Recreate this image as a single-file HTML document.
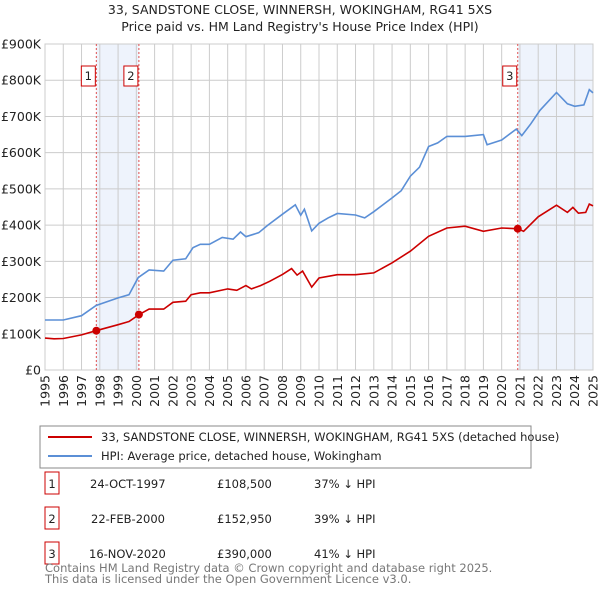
<!DOCTYPE html>
<html><head><meta charset="utf-8">
<style>
body{margin:0;background:#fff;font-family:"Liberation Sans","DejaVu Sans",sans-serif;}
svg text{font-family:"DejaVu Sans","Liberation Sans",sans-serif;}
</style></head>
<body>
<svg width="600" height="590" xmlns="http://www.w3.org/2000/svg" id="chart">
<text x="300" y="14" text-anchor="middle" font-size="12.5" fill="#222">33, SANDSTONE CLOSE, WINNERSH, WOKINGHAM, RG41 5XS</text>
<text x="300" y="31" text-anchor="middle" font-size="12.5" fill="#222">Price paid vs. HM Land Registry's House Price Index (HPI)</text>
<g id="plot"></g>
<rect x="40" y="426" width="491" height="42" fill="#fff" stroke="#888"/>
<line x1="48" y1="437" x2="92" y2="437" stroke="#cc0000" stroke-width="2"/>
<text x="101" y="441" font-size="11.5" fill="#222">33, SANDSTONE CLOSE, WINNERSH, WOKINGHAM, RG41 5XS (detached house)</text>
<line x1="48" y1="456" x2="92" y2="456" stroke="#5b8fd6" stroke-width="2"/>
<text x="101" y="460" font-size="11.5" fill="#222">HPI: Average price, detached house, Wokingham</text>
<g font-size="11.5" fill="#222">
<rect x="45" y="472" width="14" height="22" fill="#fff" stroke="#cc0000"/>
<text x="52" y="488" text-anchor="middle">1</text>
<text x="90" y="488">24-OCT-1997</text>
<text x="217" y="488">£108,500</text>
<text x="314" y="488">37% ↓ HPI</text>
<rect x="45" y="507" width="14" height="22" fill="#fff" stroke="#cc0000"/>
<text x="52" y="523" text-anchor="middle">2</text>
<text x="91" y="523">22-FEB-2000</text>
<text x="217" y="523">£152,950</text>
<text x="314" y="523">39% ↓ HPI</text>
<rect x="45" y="542" width="14" height="22" fill="#fff" stroke="#cc0000"/>
<text x="52" y="558" text-anchor="middle">3</text>
<text x="89" y="558">16-NOV-2020</text>
<text x="217" y="558">£390,000</text>
<text x="314" y="558">41% ↓ HPI</text>
</g>
<text x="45" y="572" font-size="11.5" fill="#777">Contains HM Land Registry data © Crown copyright and database right 2025.</text>
<text x="45" y="583" font-size="11.5" fill="#777">This data is licensed under the Open Government Licence v3.0.</text>
</svg>
<script>
const yTicks=[0,100000,200000,300000,400000,500000,600000,700000,800000,900000];
const yTickLabels=["£0","£100K","£200K","£300K","£400K","£500K","£600K","£700K","£800K","£900K"];
const xYears=[1995,1996,1997,1998,1999,2000,2001,2002,2003,2004,2005,2006,2007,2008,2009,2010,2011,2012,2013,2014,2015,2016,2017,2018,2019,2020,2021,2022,2023,2024,2025];
const hpiYears=[1995,1996,1997,1997.8,1999,1999.6,2000.1,2000.7,2001.5,2002,2002.7,2003.1,2003.5,2004,2004.7,2005.3,2005.7,2006,2006.7,2007.2,2008,2008.7,2009,2009.2,2009.6,2010,2010.5,2011,2012,2012.5,2013,2014,2014.5,2015,2015.5,2016,2016.5,2017,2018,2019,2019.2,2020,2020.8,2021.1,2021.6,2022.1,2023,2023.6,2024,2024.5,2024.8,2025];
const hpiValues=[138000,138000,150000,178000,199000,208000,255000,276000,273000,303000,307000,338000,347000,347000,366000,361000,381000,368000,379000,400000,430000,456000,427000,444000,384000,405000,420000,432000,428000,420000,437000,475000,495000,535000,560000,617000,627000,645000,645000,650000,622000,635000,665000,647000,680000,717000,766000,735000,728000,732000,774000,765000];
const ppYears=[1995,1995.5,1996,1997,1997.8,1999,1999.6,2000.15,2000.7,2001.5,2002,2002.7,2003,2003.5,2004,2005,2005.5,2006,2006.3,2006.8,2007.3,2008,2008.5,2008.8,2009.1,2009.6,2010,2011,2012,2013,2014,2015,2016,2017,2018,2019,2020,2020.88,2021.2,2022,2023,2023.6,2023.9,2024.2,2024.6,2024.8,2025];
const ppValues=[88000,86000,87000,97000,108500,125000,134000,152950,168000,168000,187000,190000,208000,213000,213000,224000,220000,233000,224000,233000,245000,264000,280000,262000,273000,229000,254000,263000,263000,268000,296000,328000,369000,392000,397000,383000,392000,390000,383000,423000,455000,435000,449000,433000,435000,458000,453000];
const saleYears=[1997.81,2000.14,2020.88];
const saleValues=[108500,152950,390000];
const saleLabels=["1","2","3"];
const shadeRanges=[[1997.81,2000.14],[2020.88,2025]];

const X0=45,X1=593,Y0=370,Y1=44;
const xs=y=>X0+(y-1995)/(2025-1995)*(X1-X0);
const ys=v=>Y0-v/900000*(Y0-Y1);
const NS="http://www.w3.org/2000/svg";
const plot=document.getElementById('plot');
function mk(t,a){const e=document.createElementNS(NS,t);for(const k in a)e.setAttribute(k,a[k]);plot.appendChild(e);return e;}
shadeRanges.forEach(r=>{
 const e=mk('rect',{x:xs(r[0]),y:Y1,width:xs(r[1])-xs(r[0]),height:Y0-Y1,fill:'#eef3fc'});
 
 
});
yTicks.forEach((t,i)=>{
 const l=mk('line',{x1:X0,x2:X1,y1:ys(t),y2:ys(t),stroke:'#cccccc','stroke-width':1});
 
 
 const tx=mk('text',{x:X0-4,y:ys(t)+4.5,'text-anchor':'end','font-size':12.5,fill:'#222'});
 tx.textContent=yTickLabels[i];
 
 
});
xYears.forEach(yr=>{
 const l=mk('line',{x1:xs(yr),x2:xs(yr),y1:Y1,y2:Y0,stroke:'#cccccc','stroke-width':1});
 
 
 const tx=mk('text',{x:0,y:0,'text-anchor':'end','font-size':12.5,fill:'#222',transform:`translate(${xs(yr)+4.5},${Y0+5}) rotate(-90)`});
 tx.textContent=yr;
 
 
});
const fr=mk('rect',{x:X0,y:Y1,width:X1-X0,height:Y0-Y1,fill:'none',stroke:'#cccccc'});


saleYears.forEach((y,i)=>{
 const l=mk('line',{x1:xs(y),x2:xs(y),y1:Y1,y2:Y0,stroke:'#e05050','stroke-width':1,'stroke-dasharray':'2,2'});
 
 
 const b=mk('rect',{x:xs(y)-15,y:66,width:14,height:20,fill:'#fff',stroke:'#cc0000'});
 
 
 const t=mk('text',{x:xs(y)-8,y:80,'text-anchor':'middle','font-size':11.5,fill:'#222'});
 t.textContent=saleLabels[i];
 
 
});
function path(xa,va){return xa.map((x,i)=>(i?'L':'M')+xs(x).toFixed(1)+','+ys(va[i]).toFixed(1)).join('');}
const hp=mk('path',{d:path(hpiYears,hpiValues),fill:'none',stroke:'#5b8fd6','stroke-width':1.6});


const pp=mk('path',{d:path(ppYears,ppValues),fill:'none',stroke:'#cc0000','stroke-width':1.6});


saleYears.forEach((y,i)=>{
 const c=mk('circle',{cx:xs(y),cy:ys(saleValues[i]),r:4,fill:'#cc0000'});
 
 
});
</script>
</body></html>
